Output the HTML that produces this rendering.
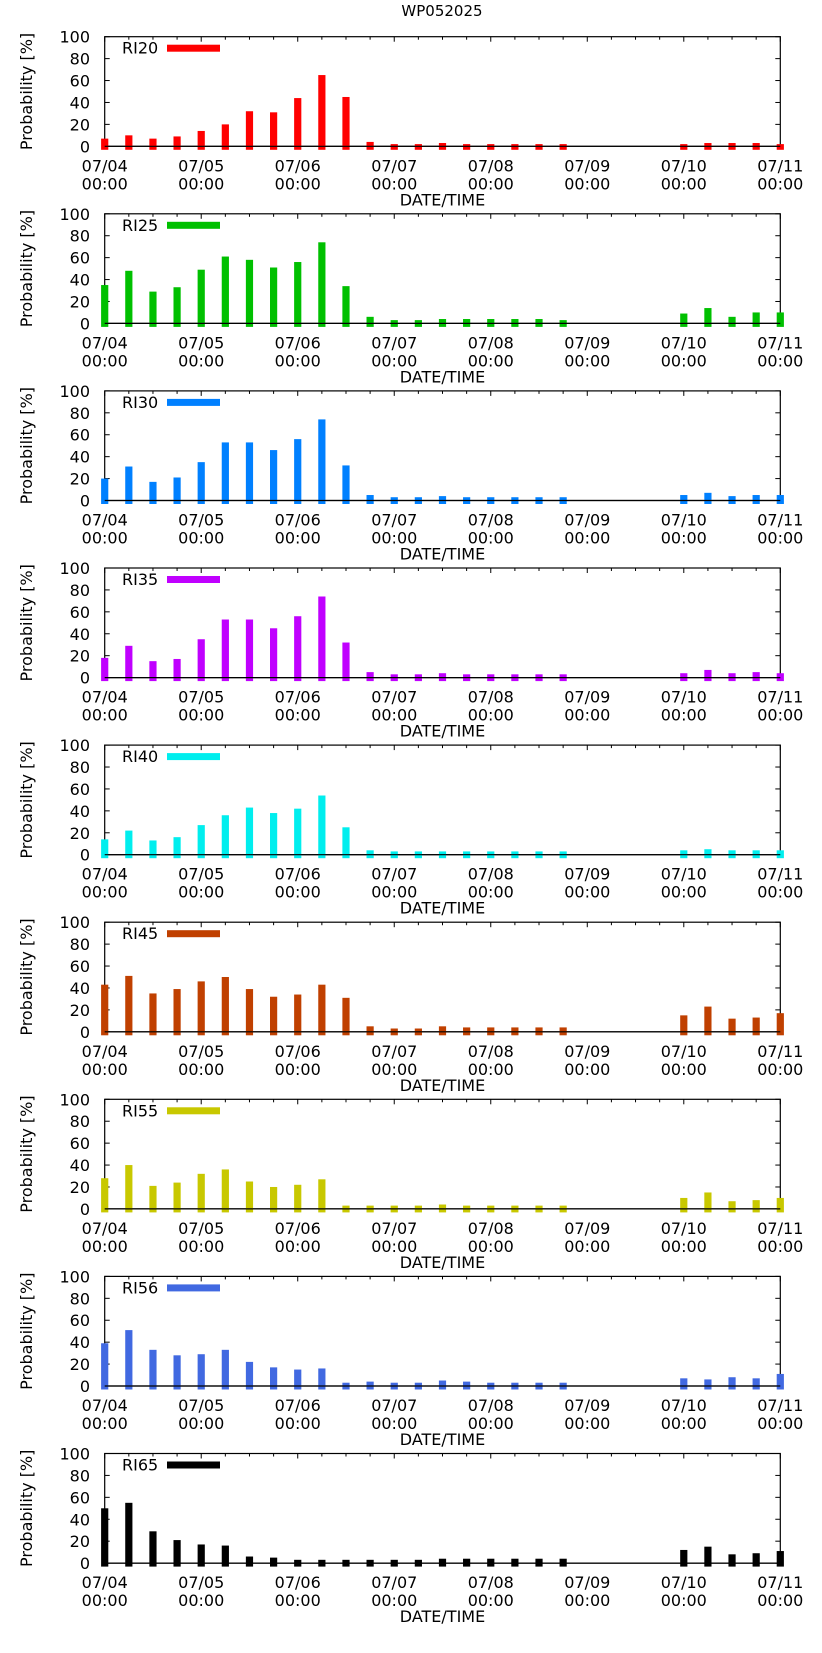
<!DOCTYPE html>
<html><head><meta charset="utf-8"><style>
html,body{margin:0;padding:0;background:#fff;}
svg{display:block;font-family:"DejaVu Sans","Liberation Sans",sans-serif;}
</style></head><body>
<svg id="chart" width="822" height="1653" viewBox="0 0 822 1653">
<text x="442" y="16" font-size="15" text-anchor="middle">WP052025</text>
</svg>
<script>
const seriesNames = ["RI20","RI25","RI30","RI35","RI40","RI45","RI55","RI56","RI65"];
const seriesColors = ["#ff0000","#00c000","#0080ff","#c000ff","#00eeee","#c04000","#c8c800","#4169e1","#000000"];
const xTickDays = ["07/04","07/05","07/06","07/07","07/08","07/09","07/10","07/11"];
const yTicks = [0,20,40,60,80,100];
const barHours = [0,6,12,18,24,30,36,42,48,54,60,66,72,78,84,90,96,102,108,114,144,150,156,162,168];
const ri20 = [7,10,7,9,14,20,32,31,44,65,45,4,2,2,3,2,2,2,2,2,2,3,3,3,2];
const ri25 = [35,48,29,33,49,61,58,51,56,74,34,6,3,3,4,4,4,4,4,3,9,14,6,10,10];
const ri30 = [20,31,17,21,35,53,53,46,56,74,32,5,3,3,4,3,3,3,3,3,5,7,4,5,5];
const ri35 = [18,29,15,17,35,53,53,45,56,74,32,5,3,3,4,3,3,3,3,3,4,7,4,5,4];
const ri40 = [14,22,13,16,27,36,43,38,42,54,25,4,3,3,3,3,3,3,3,3,4,5,4,4,4];
const ri45 = [43,51,35,39,46,50,39,32,34,43,31,5,3,3,5,4,4,4,4,4,15,23,12,13,17];
const ri55 = [28,40,21,24,32,36,25,20,22,27,3,3,3,3,4,3,3,3,3,3,10,15,7,8,10];
const ri56 = [39,51,33,28,29,33,22,17,15,16,3,4,3,3,5,4,3,3,3,3,7,6,8,7,11];
const ri65 = [50,55,29,21,17,16,6,5,3,3,3,3,3,3,4,4,4,4,4,4,12,15,8,9,11];
const allSeries = [ri20,ri25,ri30,ri35,ri40,ri45,ri55,ri56,ri65];

const NS="http://www.w3.org/2000/svg";
const svg=document.getElementById('chart');
const X0=104.7, X1=780.3, PH=109.6, TOP0=36.7, STEP=177.1, HMAX=168;
function xScale(h){return X0+(X1-X0)*h/HMAX;}
function mk(tag,attrs,parent){const e=document.createElementNS(NS,tag);for(const k in attrs)e.setAttribute(k,attrs[k]);(parent||svg).appendChild(e);return e;}

allSeries.forEach((vals,p)=>{
  const top=TOP0+STEP*p, zero=top+PH;
  const yScale=v=>zero-PH*v/100;
  const g=mk('g',{});
  
  
  for(let h=0;h<=HMAX;h+=6){
    const x=xScale(h), len=(h%24===0)?5:3;
    const t2=mk('line',{x1:x,x2:x,y1:top,y2:top+len,stroke:'#000','stroke-width':1},g);
    
    
  }
  yTicks.forEach(v=>{
    const y=yScale(v);
    const a=mk('line',{x1:X0,x2:X0+5,y1:y,y2:y,stroke:'#000','stroke-width':1},g);
    
    
    const b=mk('line',{x1:X1,x2:X1-5,y1:y,y2:y,stroke:'#000','stroke-width':1},g);
    
    
    const t=mk('text',{x:90,y:y+6,'font-size':16,'text-anchor':'end'},g);
    t.textContent=v;
    
    
  });
  xTickDays.forEach((d,i)=>{
    const x=xScale(i*24);
    const t=mk('text',{x:x,y:zero+25,'font-size':16,'text-anchor':'middle'},g);
    t.textContent=d;
    
    
    const t2=mk('text',{x:x,y:zero+43,'font-size':16,'text-anchor':'middle'},g);
    t2.textContent='00:00';
    
    
  });
  const f=mk('rect',{x:X0,y:top,width:X1-X0,height:PH,fill:'none',stroke:'#000','stroke-width':1.2},g);
  
  
  vals.forEach((v,i)=>{
    const x=xScale(barHours[i]);
    const y=yScale(v);
    const r=mk('rect',{x:x-3.6,y:y,width:7.2,height:zero+3.5-y,fill:seriesColors[p]},g);
    
    
  });
  const zl=mk('line',{x1:X0,x2:X1,y1:zero,y2:zero,stroke:'#000','stroke-width':1.2},g);
  
  
  const lt=mk('text',{x:122,y:top+17,'font-size':16},g);
  lt.textContent=seriesNames[p];
  
  
  const ll=mk('rect',{x:167,y:top+8,width:53,height:7,fill:seriesColors[p]},g);
  
  
  const yl=mk('text',{x:0,y:0,'font-size':16,'text-anchor':'middle',transform:'translate(32,'+(top+PH/2)+') rotate(-90)'},g);
  yl.textContent='Probability [%]';
  
  
  const xl=mk('text',{x:(X0+X1)/2,y:zero+59,'font-size':16,'text-anchor':'middle'},g);
  xl.textContent='DATE/TIME';
  
  
});
</script>
</body></html>
